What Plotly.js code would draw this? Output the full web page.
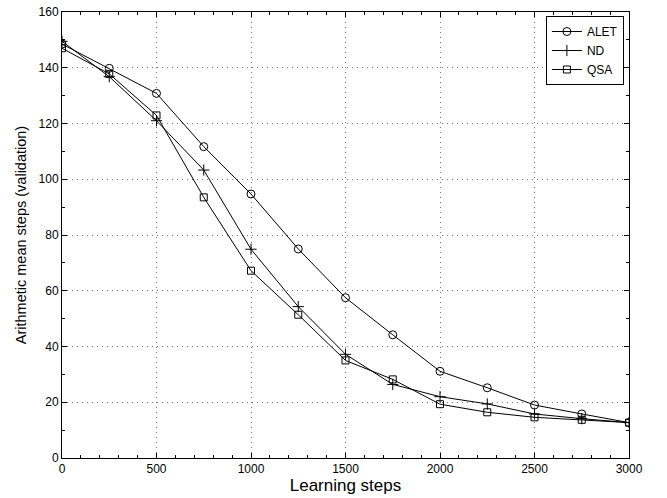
<!DOCTYPE html>
<html>
<head>
<meta charset="utf-8">
<script src="https://cdn.plot.ly/plotly-3.0.1.min.js"></script>
<style>html,body{margin:0;padding:0;background:#fff;}#chart{width:667px;height:498px;}</style>
</head>
<body>
<div id="chart"></div>
<script>
var steps = [0, 250, 500, 750, 1000, 1250, 1500, 1750, 2000, 2250, 2500, 2750, 3000];
var alet = [148.5, 139.8, 130.8, 111.7, 94.7, 75.0, 57.5, 44.2, 31.1, 25.2, 19.0, 15.8, 12.7];
var nd   = [149.5, 136.8, 121.0, 103.3, 74.9, 54.3, 37.2, 26.4, 22.0, 19.4, 15.8, 14.1, 12.7];
var qsa  = [147.0, 137.8, 122.9, 93.5, 67.2, 51.4, 35.0, 28.2, 19.3, 16.4, 14.6, 13.7, 12.7];
var seriesNames = ['ALET', 'ND', 'QSA'];
var xTitle = 'Learning steps';
var yTitle = 'Arithmetic mean steps (validation)';

function tr(name, y, sym, size) {
  return {
    x: steps, y: y, name: name, type: 'scatter', mode: 'lines+markers',
    line: {color: '#000', width: 1},
    marker: {symbol: sym, size: size, color: '#000', line: {color: '#000', width: 1}}
  };
}
var data = [
  tr(seriesNames[0], alet, 'circle-open', 8),
  tr(seriesNames[1], nd, 'cross-thin-open', 8),
  tr(seriesNames[2], qsa, 'square-open', 7)
];
var font = {family: 'Liberation Sans, Arial, sans-serif', color: '#000'};
var axisCommon = {
  showline: true, linecolor: '#000', linewidth: 1, mirror: 'allticks',
  ticks: 'inside', ticklen: 5, tickcolor: '#000', tickwidth: 1,
  showgrid: true, gridcolor: '#777', griddash: '1px,4px', gridwidth: 1,
  zeroline: false, tickfont: {family: font.family, size: 12, color: '#000'}
};
var layout = {
  width: 667, height: 498,
  margin: {l: 62, r: 38, t: 12, b: 40},
  paper_bgcolor: '#fff', plot_bgcolor: '#fff',
  font: font,
  showlegend: true,
  legend: {
    x: 0.991, y: 0.991, xanchor: 'right', yanchor: 'top',
    bgcolor: '#fff', bordercolor: '#000', borderwidth: 1,
    font: {family: font.family, size: 12, color: '#000'},
    tracegroupgap: 0, itemwidth: 30
  },
  xaxis: Object.assign({}, axisCommon, {
    range: [0, 3000], tickvals: [0, 500, 1000, 1500, 2000, 2500, 3000],
    minor: {dtick: 100, tick0: 0, ticks: 'inside', ticklen: 3, tickcolor: '#000', showgrid: false},
    title: {text: xTitle, font: {family: font.family, size: 17, color: '#000'}, standoff: 2}
  }),
  yaxis: Object.assign({}, axisCommon, {
    range: [0, 160], tickvals: [0, 20, 40, 60, 80, 100, 120, 140, 160],
    minor: {dtick: 10, tick0: 0, ticks: 'inside', ticklen: 3, tickcolor: '#000', showgrid: false},
    title: {text: yTitle, font: {family: font.family, size: 14.5, color: '#000'}, standoff: 8}
  })
};
Plotly.newPlot('chart', data, layout, {displayModeBar: false, staticPlot: true});
</script>
</body>
</html>
